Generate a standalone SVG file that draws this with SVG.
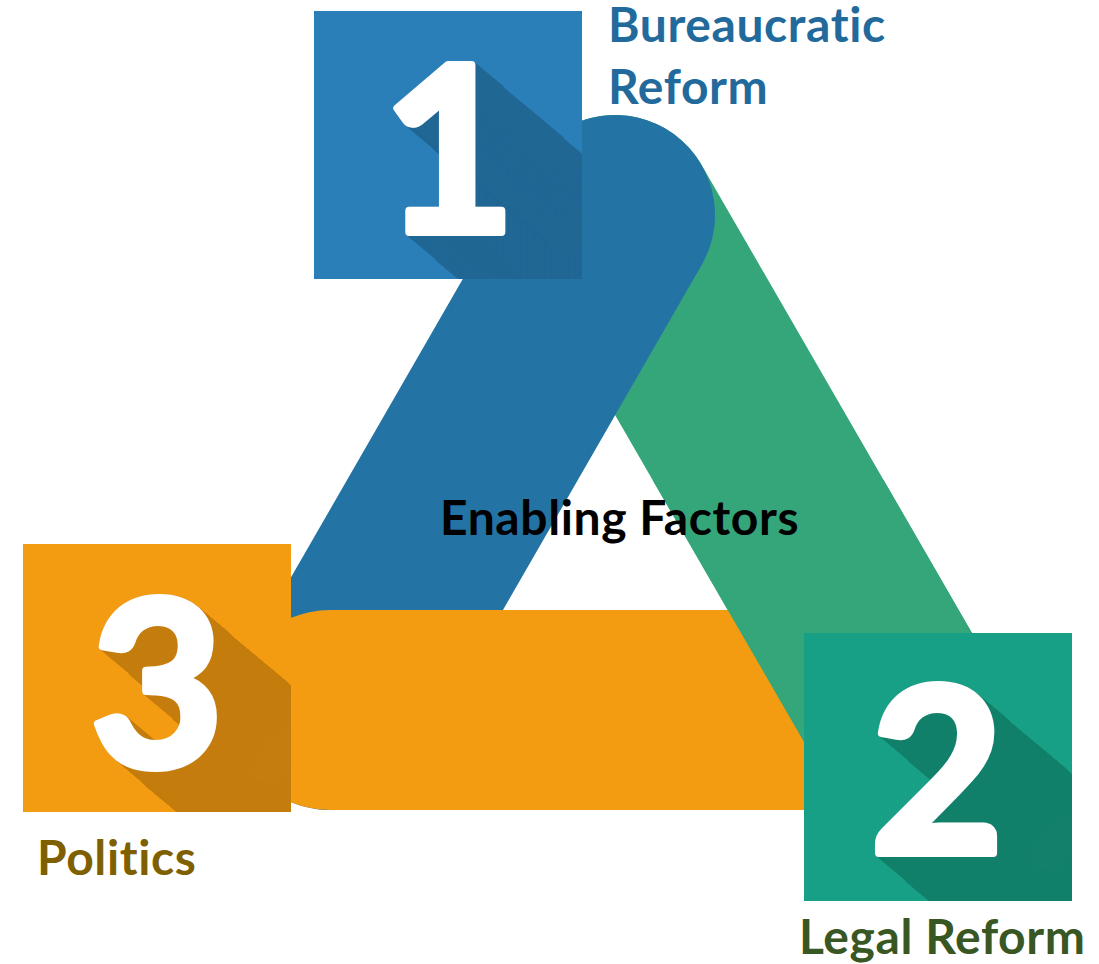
<svg xmlns="http://www.w3.org/2000/svg" xmlns:xlink="http://www.w3.org/1999/xlink" width="1099" height="964" viewBox="0 0 1099 964">
<style>
.band{fill:none;stroke-width:200;stroke-linecap:round}
.num{font-family:Lato,"Open Sans","DejaVu Sans",sans-serif;font-weight:700;font-size:230px;text-anchor:middle;stroke-width:8;stroke-linejoin:round}
.lbl{font-family:Lato,"Open Sans","Liberation Sans",sans-serif;font-weight:700;font-size:48px;letter-spacing:0.6px}
</style>
<defs>
<clipPath id="lowClip"><rect x="0" y="480" width="1099" height="484"/></clipPath>
<clipPath id="c1"><rect x="314" y="11" width="268" height="268"/></clipPath>
<clipPath id="c2"><rect x="804" y="633" width="268" height="268"/></clipPath>
<clipPath id="c3"><rect x="23" y="544" width="268" height="268"/></clipPath>
<g id="a0"><use href="#n1"/><use href="#n1" transform="translate(1.2,1.02)"/></g>
<g id="a1"><use href="#a0"/><use href="#a0" transform="translate(2.4,2.04)"/></g>
<g id="a2"><use href="#a1"/><use href="#a1" transform="translate(4.8,4.08)"/></g>
<g id="a3"><use href="#a2"/><use href="#a2" transform="translate(9.6,8.16)"/></g>
<g id="a4"><use href="#a3"/><use href="#a3" transform="translate(19.2,16.32)"/></g>
<g id="a5"><use href="#a4"/><use href="#a4" transform="translate(38.4,32.64)"/></g>
<g id="a6"><use href="#a5"/><use href="#a5" transform="translate(76.8,65.28)"/></g>
<g id="b0"><use href="#n2"/><use href="#n2" transform="translate(1.2,1.02)"/></g>
<g id="b1"><use href="#b0"/><use href="#b0" transform="translate(2.4,2.04)"/></g>
<g id="b2"><use href="#b1"/><use href="#b1" transform="translate(4.8,4.08)"/></g>
<g id="b3"><use href="#b2"/><use href="#b2" transform="translate(9.6,8.16)"/></g>
<g id="b4"><use href="#b3"/><use href="#b3" transform="translate(19.2,16.32)"/></g>
<g id="b5"><use href="#b4"/><use href="#b4" transform="translate(38.4,32.64)"/></g>
<g id="b6"><use href="#b5"/><use href="#b5" transform="translate(76.8,65.28)"/></g>
<g id="e0"><use href="#n3"/><use href="#n3" transform="translate(1.2,1.02)"/></g>
<g id="e1"><use href="#e0"/><use href="#e0" transform="translate(2.4,2.04)"/></g>
<g id="e2"><use href="#e1"/><use href="#e1" transform="translate(4.8,4.08)"/></g>
<g id="e3"><use href="#e2"/><use href="#e2" transform="translate(9.6,8.16)"/></g>
<g id="e4"><use href="#e3"/><use href="#e3" transform="translate(19.2,16.32)"/></g>
<g id="e5"><use href="#e4"/><use href="#e4" transform="translate(38.4,32.64)"/></g>
<g id="e6"><use href="#e5"/><use href="#e5" transform="translate(76.8,65.28)"/></g>
</defs>
<rect width="1099" height="964" fill="#ffffff"/>
<g id="connectors">
<line class="band" x1="615" y1="215" x2="901" y2="710" stroke="#35A67A"/>
<line class="band" x1="615" y1="215" x2="330" y2="710" stroke="#2374A4"/>
<line class="band" x1="330" y1="710" x2="901" y2="710" stroke="#F39C12"/>
<line class="band" x1="615" y1="215" x2="901" y2="710" stroke="#35A67A" clip-path="url(#lowClip)"/>
</g>
<g id="node1">
<rect x="314" y="11" width="268" height="268" fill="#2B7FB8"/>
<g clip-path="url(#c1)"><use href="#a6" fill="#216794" stroke="#216794"/></g>
<g fill="#ffffff" stroke="#ffffff"><text id="n1" class="num" x="449" y="232">1</text></g>
<text class="lbl" fill="#236A9C" x="608" y="42">Bureaucratic</text>
<text class="lbl" fill="#236A9C" x="608" y="104">Reform</text>
</g>
<g id="node2">
<rect x="804" y="633" width="268" height="268" fill="#18A086"/>
<g clip-path="url(#c2)"><use href="#b6" fill="#12806A" stroke="#12806A"/></g>
<g fill="#ffffff" stroke="#ffffff"><text id="n2" class="num" x="937" y="853">2</text></g>
<text class="lbl" fill="#385723" x="799" y="954">Legal Reform</text>
</g>
<g id="node3">
<rect x="23" y="544" width="268" height="268" fill="#F39C12"/>
<g clip-path="url(#c3)"><use href="#e6" fill="#C47D0E" stroke="#C47D0E"/></g>
<g fill="#ffffff" stroke="#ffffff"><text id="n3" class="num" x="157" y="766">3</text></g>
<text class="lbl" fill="#7F6000" x="37" y="875">Politics</text>
</g>
<g id="center">
<text class="lbl" fill="#000000" x="440" y="535">Enabling Factors</text>
</g>
</svg>
